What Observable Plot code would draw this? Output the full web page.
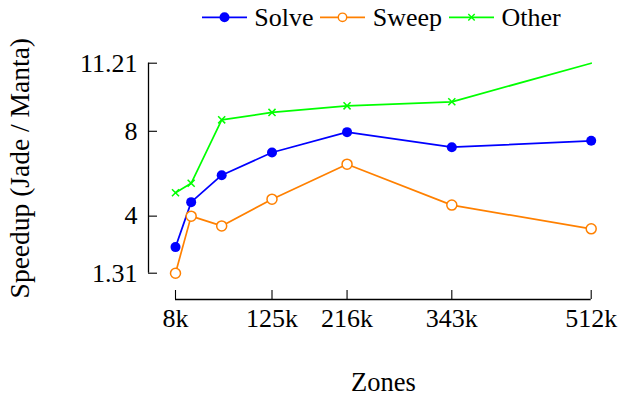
<!DOCTYPE html>
<html><head><meta charset="utf-8">
<script src="https://cdn.jsdelivr.net/npm/d3@7"></script>
<script src="https://cdn.jsdelivr.net/npm/@observablehq/plot@0.6"></script>
<style>
body{margin:0;background:#fff;font-family:"Liberation Serif","Times New Roman",serif;}
#legend{height:36px;display:flex;align-items:flex-start;padding-left:201.7px;font-family:"Liberation Serif","Times New Roman",serif;font-size:26px;line-height:36px;color:#000;}
#legend .item{display:flex;align-items:flex-start;}
#legend .item + .item{margin-left:6.7px;}
#legend svg{display:block;}
#legend span{margin-left:7.6px;white-space:nowrap;}
#chart svg{display:block;}
</style></head>
<body>
<div id="legend"></div>
<div id="chart"></div>
<script>
const zones = [8000, 27000, 64000, 125000, 216000, 343000, 512000];
const solve = [2.54, 4.66, 5.93, 7.00, 7.96, 7.25, 7.55];
const sweep = [1.31, 4.00, 3.54, 4.80, 6.45, 4.52, 3.40];
const other = [5.10, 5.55, 8.54, 8.89, 9.20, 9.39, 11.21];
const seriesNames = ["Solve", "Sweep", "Other"];
const seriesColors = ["#0000ff", "#ff8000", "#00ff00"];
const xTicks = [8000, 125000, 216000, 343000, 512000];
const yTicks = [1.31, 4, 8, 11.21];
const xLabel = "Zones";
const yLabel = "Speedup (Jade / Manta)";

const values = [solve, sweep, other];
const data = [];
seriesNames.forEach((s, si) => zones.forEach((z, i) => data.push({series: s, zones: z, speedup: values[si][i]})));

const W = 620, H = 363;
const mTop = 26.7, mBottom = 100, mLeft = 148, mRight = 29.3;
const frameH = H - mTop - mBottom, frameW = W - mLeft - mRight;
const xDomain = [xTicks[0], xTicks[xTicks.length - 1]];
const yDomain = [yTicks[0], yTicks[yTicks.length - 1]];
const color = d3.scaleOrdinal(seriesNames, seriesColors);
const font = "'Liberation Serif', 'Times New Roman', serif";

const chart = Plot.plot({
  width: W, height: H,
  marginTop: mTop, marginBottom: mBottom, marginLeft: mLeft, marginRight: mRight,
  style: {fontFamily: font, fontSize: "26px", background: "white", color: "black"},
  x: {domain: xDomain, range: [175, W - mRight]},
  y: {domain: yDomain, range: [H - mBottom - 26.3, mTop]},
  marks: [
    // range-frame axes
    Plot.ruleX([xDomain[0]], {y1: yDomain[0], y2: yDomain[1], dx: mLeft - 175, stroke: "black", strokeWidth: 1.3}),
    Plot.ruleY([yDomain[0]], {x1: xDomain[0], x2: xDomain[1], dy: 26.3, stroke: "black", strokeWidth: 1.3}),
    Plot.ruleX(xTicks, {insetTop: frameH - 9, stroke: "black", strokeWidth: 1.1}),
    Plot.ruleY(yTicks, {insetRight: frameW - 9, stroke: "black", strokeWidth: 1.1}),
    Plot.axisX({ticks: xTicks, tickSize: 0, tickPadding: 9, tickFormat: d => (d / 1000) + "k", label: null, fontSize: 26}),
    Plot.axisY({ticks: yTicks, tickSize: 0, tickPadding: 11, tickFormat: d => String(d), label: null, fontSize: 26}),
    Plot.text([xLabel], {x: [d3.mean(xDomain)], frameAnchor: "bottom", textAnchor: "middle", lineAnchor: "bottom", dy: 91.7, fontSize: 26.5, fill: "black"}),
    Plot.text([yLabel], {y: [d3.mean(yDomain)], frameAnchor: "left", textAnchor: "middle", rotate: -90, lineAnchor: "bottom", dx: 28.5 - mLeft, fontSize: 27.5, fill: "black"}),
    // data
    Plot.line(data, {x: "zones", y: "speedup", z: "series", stroke: d => color(d.series), strokeWidth: 1.7}),
    Plot.dot(data.filter(d => d.series === "Solve"), {x: "zones", y: "speedup", r: 5, fill: color("Solve"), stroke: "none"}),
    Plot.dot(data.filter(d => d.series === "Sweep"), {x: "zones", y: "speedup", r: 5, fill: "white", stroke: color("Sweep"), strokeWidth: 1.5}),
    Plot.dot(data.filter(d => d.series === "Other" && d.speedup < yDomain[1]), {x: "zones", y: "speedup", symbol: "times", r: 3.3, stroke: color("Other"), strokeWidth: 1.5})
  ]
});
document.getElementById("chart").appendChild(chart);

// legend
const legend = d3.select("#legend");
const symbols = {Solve: "filled", Sweep: "open", Other: "times"};
seriesNames.forEach(s => {
  const item = legend.append("div").attr("class", "item");
  const svg = item.append("svg").attr("width", 45).attr("height", 36);
  svg.append("line").attr("x1", 0).attr("x2", 45).attr("y1", 17.3).attr("y2", 17.3).attr("stroke", color(s)).attr("stroke-width", 1.7);
  if (symbols[s] === "filled") svg.append("circle").attr("cx", 22.5).attr("cy", 17.3).attr("r", 5).attr("fill", color(s));
  else if (symbols[s] === "open") svg.append("circle").attr("cx", 22.5).attr("cy", 17.3).attr("r", 4.2).attr("fill", "white").attr("stroke", color(s)).attr("stroke-width", 1.4);
  else svg.append("path").attr("d", "M19.3,14.1L25.7,20.5M19.3,20.5L25.7,14.1").attr("stroke", color(s)).attr("stroke-width", 1.4);
  item.append("span").text(s);
});
</script>
</body></html>
